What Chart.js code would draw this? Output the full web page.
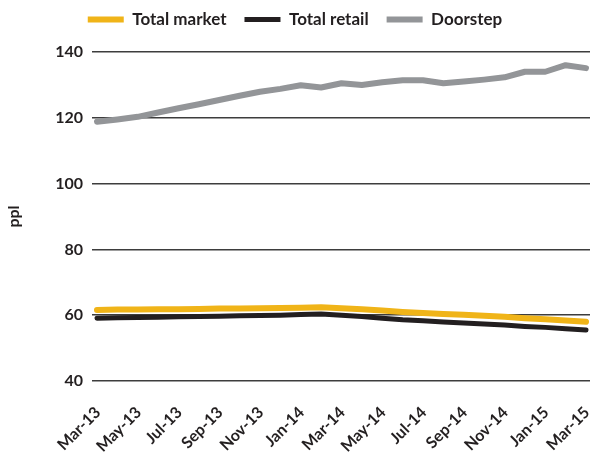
<!DOCTYPE html>
<html>
<head>
<meta charset="utf-8">
<script src="https://cdn.jsdelivr.net/npm/chart.js@4/dist/chart.umd.min.js"></script>
<style>
  html, body { margin: 0; padding: 0; background: #fff; }
  #wrap { width: 590px; height: 453px; }
</style>
</head>
<body>
<div id="wrap"><canvas id="c"></canvas></div>
<script>
// monthly prices, pence per litre
const months = [
  "Mar-13", "Apr-13", "May-13", "Jun-13", "Jul-13", "Aug-13", "Sep-13", "Oct-13", "Nov-13",
  "Dec-13", "Jan-14", "Feb-14", "Mar-14", "Apr-14", "May-14", "Jun-14", "Jul-14", "Aug-14",
  "Sep-14", "Oct-14", "Nov-14", "Dec-14", "Jan-15", "Feb-15", "Mar-15"
];
const totalMarket = [
  61.6, 61.7, 61.7, 61.8, 61.8, 61.9, 62.0, 62.0, 62.1, 62.2, 62.3, 62.4, 62.1,
  61.8, 61.4, 61.0, 60.7, 60.4, 60.1, 59.8, 59.5, 59.1, 58.8, 58.4, 58.0
];
const totalRetail = [
  59.1, 59.2, 59.3, 59.4, 59.5, 59.6, 59.7, 59.8, 59.9, 60.0, 60.2, 60.4, 60.0,
  59.6, 59.1, 58.6, 58.3, 57.9, 57.6, 57.3, 57.0, 56.6, 56.3, 55.9, 55.5
];
const doorstep = [
  118.8, 119.5, 120.3, 121.6, 122.9, 124.1, 125.4, 126.7, 127.9, 128.8, 129.9, 129.2, 130.5,
  130.0, 130.8, 131.4, 131.4, 130.5, 131.0, 131.6, 132.3, 134.0, 134.0, 136.0, 135.1
];
const yTicks = [40, 60, 80, 100, 120, 140];

const ink = "#231f20";
const font = "Lato, 'DejaVu Sans', sans-serif";

function points(values) {
  return values.map((v, i) => ({ x: i, y: v }));
}

function series(label, values, color, width) {
  return {
    label: label,
    data: points(values),
    borderColor: color,
    backgroundColor: color,
    borderWidth: width,
    borderCapStyle: "round",
    borderJoinStyle: "round",
    pointRadius: 0,
    tension: 0
  };
}

// leave some room between the legend row and the plot
const legendGap = {
  id: "legendGap",
  beforeInit(chart) {
    const fit = chart.legend.fit;
    chart.legend.fit = function () {
      fit.call(this);
      this.height += 14;
    };
  }
};

new Chart(document.getElementById("c"), {
  type: "line",
  data: {
    datasets: [
      series("Total market", totalMarket, "#f0b418", 6),
      series("Total retail", totalRetail, ink, 5),
      series("Doorstep", doorstep, "#939598", 6)
    ]
  },
  plugins: [legendGap],
  options: {
    responsive: true,
    maintainAspectRatio: false,
    animation: false,
    layout: { padding: { top: -7, right: 0, bottom: 0, left: 0 } },
    plugins: {
      tooltip: { enabled: false },
      legend: {
        position: "top",
        align: "center",
        labels: {
          color: ink,
          usePointStyle: true,
          pointStyle: "line",
          pointStyleWidth: 36,
          padding: 18,
          font: { family: font, size: 17, weight: "bold" }
        }
      }
    },
    scales: {
      x: {
        type: "linear",
        min: -0.245,
        max: 24.196,
        afterBuildTicks: (s) => {
          s.ticks = months.map((m, i) => ({ value: i })).filter((t) => t.value % 2 === 0);
        },
        afterFit: (s) => {
          s.height = 72;
          s.paddingLeft = 0;
          s.paddingRight = 0;
        },
        grid: { display: false },
        border: { display: false },
        ticks: {
          color: ink,
          autoSkip: false,
          minRotation: 45,
          maxRotation: 45,
          padding: 14,
          labelOffset: 1,
          font: { family: font, size: 16, weight: "bold" },
          callback: (v) => months[v]
        }
      },
      y: {
        min: 40,
        max: 140,
        afterBuildTicks: (s) => {
          s.ticks = yTicks.map((v) => ({ value: v }));
        },
        afterFit: (s) => { s.width = 92; },
        grid: { color: "#3d3d3d", lineWidth: 1.5, drawTicks: false },
        border: { display: false },
        ticks: {
          color: ink,
          padding: 9,
          font: { family: font, size: 16, weight: "bold" }
        },
        title: {
          display: true,
          text: "ppl",
          color: ink,
          padding: { top: 4, bottom: 0 },
          font: { family: font, size: 16, weight: "bold" }
        }
      }
    }
  }
});
</script>
</body>
</html>
